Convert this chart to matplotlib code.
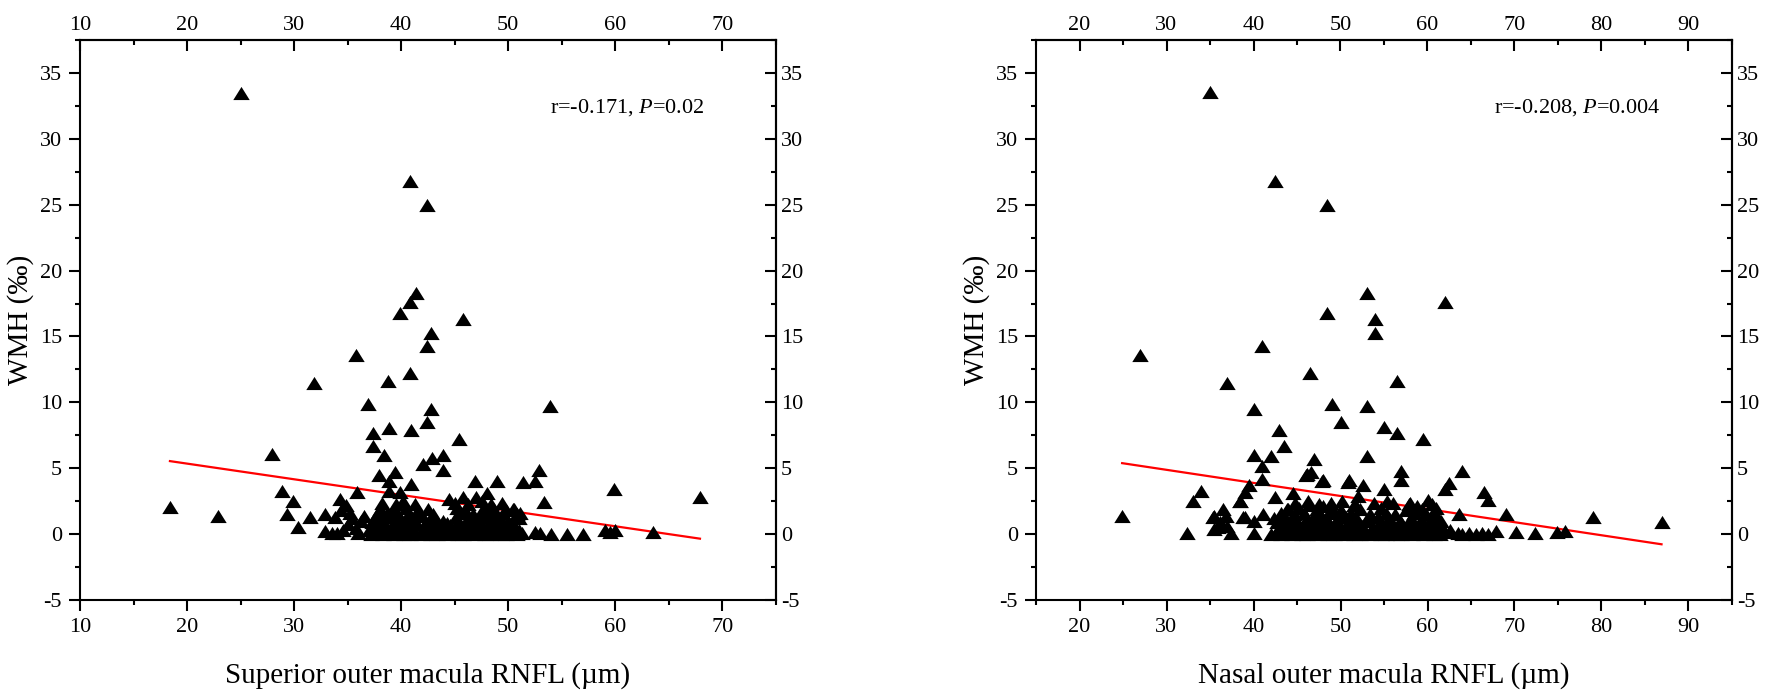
import numpy as np
import matplotlib
matplotlib.use('Agg')
import matplotlib.pyplot as plt
from matplotlib.ticker import MultipleLocator
from matplotlib.path import Path

plt.rcParams['font.family'] = ['Liberation Serif', 'DejaVu Serif']
plt.rcParams['mathtext.fontset'] = 'custom'
plt.rcParams['mathtext.rm'] = 'Liberation Serif'
plt.rcParams['mathtext.it'] = 'Liberation Serif:italic'
plt.rcParams['axes.unicode_minus'] = False

# %% data
# superior outer macula RNFL vs WMH
sup_x = [25.0, 40.8, 42.4, 41.4, 40.8, 39.9, 45.8, 42.8, 42.4, 35.8, 40.8, 38.8, 31.9, 36.9,
         53.9, 42.8, 42.4, 38.9, 40.9, 37.4, 45.4, 37.4, 27.9, 38.4, 43.9, 42.9, 42.0, 43.9,
         52.9, 39.4, 37.9, 38.9, 46.9, 48.9, 51.4, 52.5, 40.9, 59.9, 28.9, 38.9, 39.9, 35.9,
         48.0, 67.9, 29.9, 34.3, 44.5, 45.8, 47.0, 53.3, 41.3, 18.4, 22.9, 29.3, 31.5, 32.9,
         33.8, 30.4, 32.9,
         34.0, 34.6, 35.0, 35.4, 35.8, 36.2, 34.4, 34.8, 35.2, 36.0, 36.5, 33.5,
         37.2, 37.8, 38.3, 38.8, 39.3, 39.8, 40.3, 40.8, 41.3, 41.8, 42.3, 42.8, 43.3, 43.8,
         44.3, 44.8, 45.3, 45.8, 46.3, 46.8, 47.3, 47.8, 48.3, 48.8, 49.3, 49.8, 50.3, 50.8,
         51.3,
         37.0, 38.0, 39.0, 40.0, 41.0, 42.0, 43.0, 44.0, 45.0, 46.0, 47.0, 48.0, 49.0, 50.0,
         51.0,
         37.5, 38.5, 39.6, 40.5, 41.5, 42.6, 43.5, 44.6, 45.5, 46.4, 47.5, 48.5, 49.6, 50.5,
         37.3, 38.3, 39.3, 40.3, 41.3, 42.3, 43.3, 44.3, 45.3, 46.3, 47.3, 48.3, 49.3, 50.3,
         37.9, 38.9, 39.9, 41.0, 41.9, 42.9, 43.9, 45.1, 46.2, 47.2, 48.2, 49.2, 50.0, 51.0,
         37.7, 38.7, 39.7, 40.7, 41.7, 43.0, 45.6, 46.7, 47.7, 48.7, 49.5, 50.8,
         38.0, 39.2, 40.4, 41.6, 42.5, 45.2, 46.0, 47.6, 48.6, 49.8, 50.5, 50.4, 51.1,
         38.2, 39.5, 40.2, 45.0, 46.2, 47.5, 48.4, 49.4,
         52.5, 53.0, 54.0, 55.5, 57.0, 59.0, 59.5, 60.0, 63.5]
sup_y = [33.5, 26.8, 25.0, 18.3, 17.6, 16.8, 16.3, 15.3, 14.3, 13.6, 12.2, 11.6, 11.5, 9.85,
         9.7, 9.5, 8.5, 8.07, 7.9, 7.7, 7.2, 6.7, 6.1, 5.97, 5.97, 5.8, 5.3, 4.83,
         4.83, 4.7, 4.5, 4.0, 4.0, 4.07, 3.95, 4.07, 3.77, 3.4, 3.3, 3.3, 3.2, 3.19,
         3.1, 2.8, 2.55, 2.68, 2.68, 2.8, 2.8, 2.43, 2.3, 2.05, 1.4, 1.54, 1.29, 1.54,
         1.29, 0.53, 0.27,
         0.1, 0.3, 0.8, 1.2, 0.5, 1.0, 1.8, 2.2, 1.6, 0.1, 1.4, 0.05,
         0.0, 0.1, 0.0, 0.2, 0.0, 0.1, 0.0, 0.0, 0.2, 0.0, 0.1, 0.0, 0.0, 0.2,
         0.0, 0.1, 0.0, 0.0, 0.1, 0.0, 0.2, 0.0, 0.0, 0.1, 0.0, 0.0, 0.1, 0.0,
         0.1,
         0.3, 0.4, 0.3, 0.35, 0.3, 0.4, 0.3, 0.35, 0.4, 0.3, 0.35, 0.3, 0.4, 0.3,
         0.35,
         0.6, 0.7, 0.5, 0.6, 0.8, 0.6, 0.5, 0.7, 0.6, 0.5, 0.7, 0.6, 0.5, 0.6,
         0.9, 0.95, 0.9, 1.0, 0.9, 0.95, 0.9, 0.85, 0.9, 1.0, 0.9, 0.95, 0.9, 0.9,
         1.2, 1.3, 1.1, 1.2, 1.4, 1.2, 1.0, 1.3, 1.2, 1.1, 1.3, 1.2, 1.0, 1.2,
         1.5, 1.6, 1.5, 1.55, 1.6, 1.5, 1.6, 1.5, 1.55, 1.5, 1.6, 1.5,
         1.9, 1.8, 2.0, 1.8, 1.9, 2.0, 1.8, 1.9, 2.0, 1.8, 1.9, 1.9, 1.6,
         2.4, 2.3, 2.5, 2.4, 2.3, 2.5, 2.3, 2.4,
         0.2, 0.1, 0.0, 0.0, 0.0, 0.3, 0.2, 0.3, 0.2]
sup_fit = (-0.1189, 7.73)  # slope, intercept
sup_text = r'r=-0.171, $\mathit{P}$=0.02'

# nasal outer macula RNFL vs WMH
nas_x = [34.95, 42.45, 48.5, 53.0, 62.0, 48.5, 54.0, 54.0, 41.0, 27.0, 46.5, 37.0, 56.5, 49.0,
         53.0, 40.0, 50.0, 55.0, 42.9, 56.5, 59.5, 43.5, 40.0, 42.0, 53.0, 47.0, 41.0, 57.0,
         64.0, 46.6, 46.0, 41.0, 57.0, 48.0, 51.0, 62.5, 39.5, 52.6, 34.0, 39.0, 62.0, 55.0,
         44.5, 66.5, 67.0, 33.0, 38.5, 42.5, 52.0, 56.0, 58.0, 60.0, 60.5, 24.9, 63.6, 69.0,
         79.0, 86.9, 32.4, 35.5, 36.5, 39.0, 40.0, 37.4, 35.5, 35.3, 35.9, 38.8, 38.4, 40.0,
         41.1, 43.9, 46.1, 47.9, 50.9, 36.2, 36.8, 37.0,
         42.0, 42.6, 43.2, 43.8, 44.4, 45.0, 45.6, 46.2, 46.8, 47.4, 48.0, 48.6, 49.2, 49.8,
         50.4, 51.0, 51.6, 52.2, 52.8, 53.4, 54.0, 54.6, 55.2, 55.8, 56.4, 57.0, 57.6, 58.2,
         59.0, 59.6, 60.2, 60.8, 61.4, 62.0, 63.5, 64.0, 64.8, 65.6, 66.3, 67.0, 67.9, 70.2,
         72.4, 74.85, 75.8,
         42.9, 44.0, 45.1, 46.3, 47.5, 48.7, 49.9, 51.1, 52.3, 53.5, 54.7, 55.9, 57.1, 58.3,
         59.5, 60.7, 61.8, 62.6,
         43.0, 44.2, 45.3, 46.5, 47.7, 48.9, 50.1, 51.3, 52.5, 53.7, 54.9, 56.1, 57.3, 58.5,
         59.7, 60.9,
         42.7, 43.9, 45.0, 46.2, 47.4, 48.6, 49.7, 50.9, 52.1, 53.3, 54.5, 55.7, 56.9, 58.0,
         59.2, 60.3, 61.2,
         42.3, 43.6, 44.9, 46.1, 47.0, 48.3, 49.5, 50.6, 51.8, 53.1, 54.3, 55.6, 56.8, 58.1,
         59.3, 60.6, 61.5,
         43.2, 44.6, 45.8, 47.6, 48.8, 50.3, 51.2, 53.4, 55.2, 56.3, 58.4, 59.8, 60.9,
         44.0, 45.2, 46.4, 47.3, 48.0, 49.0, 50.0, 51.5, 52.2, 54.6, 57.5, 58.8, 59.4, 61.0,
         44.8, 46.3, 47.5, 48.9, 50.2, 51.7, 53.8, 55.4, 57.9]
nas_y = [33.55, 26.8, 25.0, 18.3, 17.6, 16.8, 16.3, 15.3, 14.3, 13.6, 12.2, 11.5, 11.6, 9.85,
         9.7, 9.5, 8.5, 8.1, 7.9, 7.7, 7.2, 6.7, 6.0, 5.9, 5.9, 5.7, 5.2, 4.8,
         4.8, 4.7, 4.5, 4.2, 4.1, 4.1, 4.1, 3.9, 3.7, 3.7, 3.3, 3.2, 3.4, 3.4,
         3.1, 3.2, 2.6, 2.5, 2.5, 2.8, 2.9, 2.4, 2.4, 2.6, 2.3, 1.37, 1.5, 1.5,
         1.28, 0.9, 0.1, 1.4, 1.9, 1.3, 0.1, 0.1, 0.4, 1.29, 0.53, 1.29, 2.55, 1.0,
         1.5, 1.9, 4.58, 4.07, 3.95, 0.9, 1.4, 0.6,
         0.0, 0.1, 0.0, 0.2, 0.0, 0.1, 0.0, 0.0, 0.2, 0.0, 0.1, 0.0, 0.0, 0.2,
         0.0, 0.1, 0.0, 0.0, 0.1, 0.0, 0.2, 0.0, 0.0, 0.1, 0.0, 0.0, 0.1, 0.0,
         0.2, 0.0, 0.1, 0.0, 0.0, 0.2, 0.1, 0.0, 0.1, 0.0, 0.1, 0.0, 0.27, 0.14,
         0.09, 0.14, 0.27,
         0.3, 0.35, 0.3, 0.4, 0.3, 0.35, 0.3, 0.4, 0.3, 0.35, 0.3, 0.4, 0.3, 0.35,
         0.3, 0.4, 0.3, 0.35,
         0.6, 0.7, 0.5, 0.6, 0.8, 0.6, 0.5, 0.7, 0.6, 0.5, 0.7, 0.6, 0.5, 0.6,
         0.7, 0.5,
         0.9, 0.95, 0.9, 1.0, 0.9, 0.95, 0.9, 0.85, 0.9, 1.0, 0.9, 0.95, 0.9, 0.9,
         0.95, 0.9, 0.85,
         1.2, 1.3, 1.1, 1.2, 1.4, 1.2, 1.0, 1.3, 1.2, 1.1, 1.3, 1.2, 1.0, 1.2,
         1.1, 1.3, 1.0,
         1.6, 1.55, 1.6, 1.5, 1.6, 1.55, 1.6, 1.5, 1.6, 1.55, 1.6, 1.5, 1.6,
         1.9, 2.0, 2.2, 1.9, 2.1, 2.0, 1.8, 2.2, 1.9, 2.0, 1.8, 2.1, 1.9, 2.0,
         2.4, 2.5, 2.3, 2.4, 2.5, 2.3, 2.4, 2.5, 2.3]
nas_fit = (-0.0993, 7.86)
nas_text = r'r=-0.208, $\mathit{P}$=0.004'

panels = [
    dict(x=sup_x, y=sup_y, fit=sup_fit, text=sup_text, xlim=(10, 75), xticks=range(10, 71, 10),
         xlabel='Superior outer macula RNFL (µm)', left=80 / 1772),
    dict(x=nas_x, y=nas_y, fit=nas_fit, text=nas_text, xlim=(15, 95), xticks=range(20, 91, 10),
         xlabel='Nasal outer macula RNFL (µm)', left=1036 / 1772),
]

# the triangles in the figure are a bit wider than tall
tri = Path([(0, 0.8), (-1, -0.8), (1, -0.8), (0, 0.8)],
           [Path.MOVETO, Path.LINETO, Path.LINETO, Path.CLOSEPOLY])

fig = plt.figure(figsize=(17.72, 6.94), dpi=100)

for p in panels:
    ax = fig.add_axes([p['left'], 0.1354, 696 / 1772, 0.807])
    ax.scatter(p['x'], p['y'], marker=tri, s=140, c='black', linewidths=0, zorder=3)
    xs = np.array([min(p['x']), max(p['x'])])
    ax.plot(xs, p['fit'][0] * xs + p['fit'][1], color='red', lw=1.6, zorder=2)
    ax.text(0.897, 0.879, p['text'], transform=ax.transAxes, ha='right', va='center', fontsize=16)

    ax.set_xlim(*p['xlim'])
    ax.set_ylim(-5, 37.5)
    ax.set_xticks(list(p['xticks']))
    ax.set_yticks(range(-5, 36, 5))
    ax.xaxis.set_minor_locator(MultipleLocator(5))
    ax.yaxis.set_minor_locator(MultipleLocator(2.5))
    ax.tick_params(which='both', direction='out', labelsize=16, width=1.5, pad=5)
    ax.tick_params(which='major', length=8)
    ax.tick_params(which='minor', length=3.6)
    for s in ax.spines.values():
        s.set_linewidth(1.5)

    top = ax.secondary_xaxis('top')
    top.set_xticks(list(p['xticks']))
    top.xaxis.set_minor_locator(MultipleLocator(5))
    rgt = ax.secondary_yaxis('right')
    rgt.set_yticks(range(-5, 36, 5))
    rgt.yaxis.set_minor_locator(MultipleLocator(2.5))
    for a in (top, rgt):
        a.tick_params(which='both', direction='in', labelsize=16, width=1.5)
        a.tick_params(which='major', length=8)
        a.tick_params(which='minor', length=3.6)
        for s in a.spines.values():
            s.set_linewidth(1.5)

    ax.set_xlabel(p['xlabel'], fontsize=21, labelpad=18)
    ax.set_ylabel('WMH (‰)', fontsize=21, labelpad=4)

fig.savefig('out.png', dpi=100)
